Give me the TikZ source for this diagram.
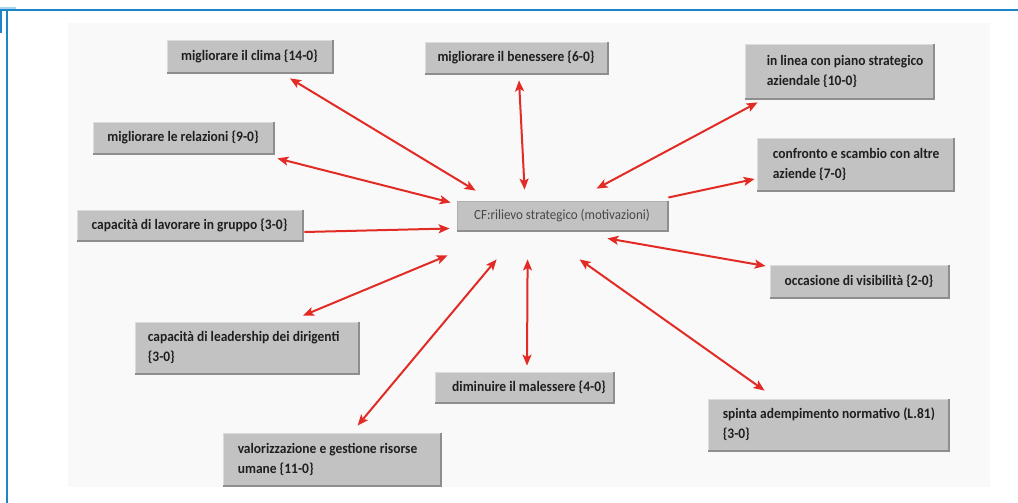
\documentclass[tikz,border=0pt]{standalone}
\usepackage{fontspec}
\setmainfont{Carlito}[FakeStretch=0.93]
\usetikzlibrary{arrows.meta,calc}

\definecolor{frameblue}{HTML}{1A85C8}
\definecolor{framelight}{HTML}{A9D3EE}
\definecolor{panel}{HTML}{F9F9F9}
\definecolor{boxfill}{HTML}{C2C2C2}
\definecolor{boxedge}{HTML}{DCDCDC}
\definecolor{boxshade}{HTML}{8E8E8E}
\definecolor{linkred}{HTML}{E22B25}

% a grey code box with left-aligned text: name, centre, width, height, left pad, text
\newcommand\codebox[6]{%
  \node[code, minimum width=#3, minimum height=#4] (#1) at #2 {};
  \node[codetext, anchor=west, align=left] at ([xshift=#5]#1.west) {#6};}

\begin{document}
\begin{tikzpicture}[x=1pt,y=-1pt,
  codetext/.style={inner sep=0pt, font=\bfseries\fontsize{14.5}{20}\selectfont, text=black!88},
  code/.style={codetext, fill=boxfill, draw=boxedge, line width=0.8pt},
  core/.style={fill=boxfill, draw=boxedge!80!black, line width=0.8pt, inner sep=0pt,
    font=\fontsize{14}{16}\selectfont, text=black!72},
  shade/.style={draw=boxshade, line width=1.6pt},
  tip/.tip={Stealth[length=11pt,width=9pt,inset=2.5pt]},
  link/.style={draw=linkred, line width=2pt, tip-tip},
  linkto/.style={draw=linkred, line width=2pt, -tip},
]
\useasboundingbox (0,0) rectangle (1018,503);

% page frame and light panel
\fill[panel] (68,23) rectangle (990,487);
\draw[framelight, line width=2pt] (0,8.5) -- (16,8.5);
\draw[frameblue, line width=2.4pt] (0,10) -- (1018,10);
\draw[frameblue, line width=1.5pt] (7,10) -- (7,503);
\draw[frameblue, line width=1.5pt] (1,10) -- (1,33);

% central concept
\node[core, minimum width=210, minimum height=29] (c) at (562,215.5)
  {CF:rilievo strategico (motivazioni)};

% surrounding codes
\node[code, minimum width=165, minimum height=32] (clima) at (249.5,56)
  {migliorare il clima \{14-0\}};
\node[code, minimum width=182, minimum height=31] (benessere) at (516,57.5)
  {migliorare il benessere \{6-0\}};
\codebox{linea}{(839,71)}{188}{54}{22}{in linea con piano strategico\\aziendale \{10-0\}}
\codebox{confronto}{(855,164)}{196}{52}{16}{confronto e scambio con altre\\aziende \{7-0\}}
\node[code, minimum width=180, minimum height=31] (relazioni) at (183,137.5)
  {migliorare le relazioni \{9-0\}};
\node[code, minimum width=225, minimum height=30] (gruppo) at (189.5,225)
  {capacità di lavorare in gruppo \{3-0\}};
\node[code, minimum width=178, minimum height=32] (occasione) at (859,281)
  {occasione di visibilità \{2-0\}};
\codebox{leadership}{(246.5,347.5)}{223}{51}{13}{capacità di leadership dei dirigenti\\\{3-0\}}
\node[code, minimum width=178, minimum height=30] (diminuire) at (524,387)
  {\hspace*{10pt}diminuire il malessere \{4-0\}};
\codebox{spinta}{(828,424.5)}{240}{51}{15}{spinta adempimento normativo (L.81)\\\{3-0\}}
\codebox{valorizzazione}{(331.5,459)}{217}{52}{15}{valorizzazione e gestione risorse\\umane \{11-0\}}

% raised look: darker lower and right edges
\foreach \n in {c,clima,benessere,linea,relazioni,confronto,gruppo,occasione,
                leadership,diminuire,spinta,valorizzazione}{
  \draw[shade] ([xshift=0.8pt]\n.north east) -- ([xshift=0.8pt,yshift=-0.8pt]\n.south east)
    -- ([yshift=-0.8pt]\n.south west);
}

% relations between the codes and the central concept
\draw[link] ($(clima.south)+(40.5,6)$) -- ($(c.north west)+(19,-10)$);
\draw[link] ($(benessere.south)+(3,7)$) -- ($(c.north west)+(68,-11)$);
\draw[link] ($(linea.south west)+(13,4)$) -- ($(c.north west)+(140,-12)$);
\draw[link] ($(relazioni.south east)+(4,5)$) -- ($(c.west)+(-6,-13)$);
\draw[linkto] ($(c.east)+(1,-18)$) -- ($(confronto.west)+(-2,15)$);
\draw[linkto] ($(gruppo.east)+(2,7)$) -- ($(c.west)+(-7,13)$);
\draw[link] ($(occasione.west)+(-4,-15)$) -- ($(c.south east)+(-60,8)$);
\draw[link] ($(leadership.north)+(56.5,-6)$) -- ($(c.south west)+(-9,25)$);
\draw[link] ($(valorizzazione.north west)+(135,-7)$) -- ($(c.south west)+(40,29)$);
\draw[link] ($(diminuire.north)+(3,-6)$) -- ($(c.south west)+(71,29)$);
\draw[link] ($(spinta.north west)+(57,-8)$) -- ($(c.south west)+(123,29)$);
\end{tikzpicture}
\end{document}
